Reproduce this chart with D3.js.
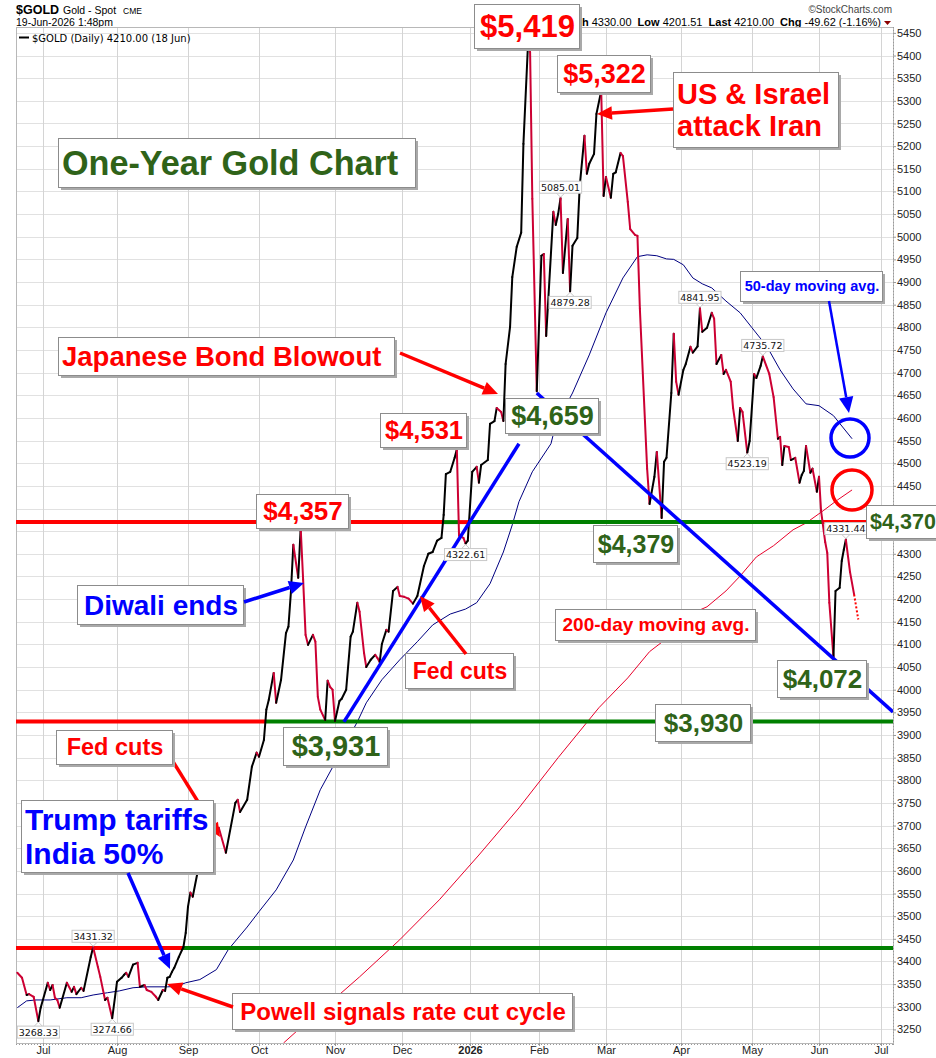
<!DOCTYPE html>
<html>
<head>
<meta charset="utf-8">
<script src="https://cdn.jsdelivr.net/npm/d3@7"></script>
<style>
  body { margin: 0; background: #fff; }
  svg { display: block; font-family: "Liberation Sans", Arial, sans-serif; }
</style>
</head>
<body>
<svg id="chart" width="936" height="1058"></svg>
<script>
// ---- data ----
const priceDates = [
  "2025-06-20","2025-06-22","2025-06-24","2025-06-25","2025-06-27","2025-06-29","2025-06-30",
  "2025-07-03","2025-07-04","2025-07-05","2025-07-06","2025-07-07","2025-07-08","2025-07-11","2025-07-13",
  "2025-07-14","2025-07-15","2025-07-17","2025-07-18","2025-07-21","2025-07-22","2025-07-24","2025-07-25",
  "2025-07-27","2025-07-28","2025-07-30","2025-08-01","2025-08-03","2025-08-04","2025-08-05","2025-08-06",
  "2025-08-08","2025-08-10","2025-08-11","2025-08-13","2025-08-14","2025-08-16","2025-08-18","2025-08-19",
  "2025-08-21","2025-08-22","2025-08-23","2025-08-24","2025-08-25","2025-08-26","2025-08-28","2025-08-30",
  "2025-08-31","2025-09-01","2025-09-02","2025-09-03","2025-09-05","2025-09-07","2025-09-09","2025-09-14",
  "2025-09-17","2025-09-21","2025-09-22","2025-09-23","2025-09-26","2025-09-28","2025-09-30","2025-10-01",
  "2025-10-03","2025-10-04","2025-10-05","2025-10-07","2025-10-08","2025-10-10","2025-10-12","2025-10-13",
  "2025-10-14","2025-10-15","2025-10-17","2025-10-18","2025-10-19","2025-10-20","2025-10-21","2025-10-23",
  "2025-10-24","2025-10-25","2025-10-26","2025-10-28","2025-10-29","2025-10-30","2025-10-31","2025-11-01",
  "2025-11-03","2025-11-04","2025-11-06","2025-11-08","2025-11-09","2025-11-11","2025-11-12","2025-11-14",
  "2025-11-15","2025-11-17","2025-11-19","2025-11-20","2025-11-21","2025-11-22","2025-11-24","2025-11-25",
  "2025-11-27","2025-11-29","2025-11-30","2025-12-02","2025-12-04","2025-12-06","2025-12-08","2025-12-11",
  "2025-12-13","2025-12-15","2025-12-17","2025-12-19","2025-12-20","2025-12-21","2025-12-23","2025-12-25",
  "2025-12-26","2025-12-27","2025-12-29","2025-12-30","2025-12-31","2026-01-02","2026-01-04","2026-01-05",
  "2026-01-06","2026-01-09","2026-01-10","2026-01-12","2026-01-13","2026-01-15","2026-01-16","2026-01-17",
  "2026-01-19","2026-01-20","2026-01-22","2026-01-24","2026-01-25","2026-01-27","2026-01-28","2026-01-29",
  "2026-01-31","2026-02-02","2026-02-03","2026-02-04","2026-02-07","2026-02-08","2026-02-09","2026-02-10",
  "2026-02-11","2026-02-13","2026-02-14","2026-02-15","2026-02-17","2026-02-18","2026-02-20","2026-02-21",
  "2026-02-22","2026-02-24","2026-02-25","2026-02-27","2026-02-28","2026-03-01","2026-03-03","2026-03-04",
  "2026-03-05","2026-03-07","2026-03-08","2026-03-10","2026-03-11","2026-03-13","2026-03-14","2026-03-15",
  "2026-03-18","2026-03-19","2026-03-21","2026-03-22","2026-03-24","2026-03-25","2026-03-26","2026-03-28",
  "2026-03-29","2026-03-30","2026-03-31","2026-04-02","2026-04-03","2026-04-05","2026-04-06","2026-04-08",
  "2026-04-09","2026-04-10","2026-04-12","2026-04-14","2026-04-15","2026-04-16","2026-04-18","2026-04-19",
  "2026-04-20","2026-04-22","2026-04-23","2026-04-25","2026-04-26","2026-04-27","2026-04-29","2026-04-30",
  "2026-05-02","2026-05-03","2026-05-05","2026-05-06","2026-05-09","2026-05-11","2026-05-13","2026-05-14",
  "2026-05-15","2026-05-16","2026-05-18","2026-05-19","2026-05-21","2026-05-23","2026-05-24","2026-05-25",
  "2026-05-26","2026-05-28","2026-05-29","2026-05-31","2026-06-01","2026-06-02","2026-06-04","2026-06-05",
  "2026-06-06","2026-06-08","2026-06-09","2026-06-11","2026-06-12","2026-06-13","2026-06-14","2026-06-16",
  "2026-06-18"
];
const priceValues = [
  3375,3364,3326,3328,3322,3268.33,3298,
  3353,3337,3348,3320,3315,3298,3353,3333,
  3344,3328,3342,3335,3410,3431.32,3388,3366,
  3315,3320,3274.66,3355,3364,3370,3375,3366,
  3393,3397,3344,3348,3337,3333,3322,3315,
  3337,3335,3364,3366,3377,3386,3410,3432,
  3463,3521,3552,3543,3596,3640,3669,3695,
  3640,3750,3757,3730,3757,3830,3861,3852,
  3889,3956,3978,4037,3971,4022,4125,4139,
  4214,4320,4247,4357,4243,4121,4099,4121,
  4106,3984,3956,3933,4020,4006,4000,3931,
  3975,3980,4000,4117,4128,4192,4172,4081,
  4050,4066,4077,4070,4061,4101,4132,4128,
  4218,4227,4207,4205,4201,4190,4207,4273,
  4300,4304,4329,4335,4386,4476,4481,4512,
  4531,4340,4335,4322.61,4329,4481,4492,4457,
  4496,4507,4587,4593,4622,4613,4593,4719,
  4801,4911,4978,5009,5205,5419,5408,5084,
  4659,4958,4962,4781,5055,5026,5050,5085.01,
  4920,5039,4879.28,4980,4997,5110,5223,5139,
  5161,5183,5271,5322,5090,5132,5086,5139,
  5142,5185,5178,5077,5017,5004,5002,4841,
  4488,4410,4470,4525,4379,4503,4512,4655,
  4786,4680,4651,4706,4719,4757,4744,4758,
  4841.95,4790,4799,4832,4819,4719,4739,4697,
  4706,4680,4622,4549,4622,4613,4523.19,4549,
  4697,4688,4715,4735.72,4697,4646,4554,4558,
  4496,4538,4536,4507,4512,4457,4474,4483,
  4538,4479,4488,4437,4470,4395,4326,4302,
  4192,4072,4218,4225,4284,4309,4331.44,4260,
  4210
];
// intraday move drawn dotted after the last close
const liveDates = ["2026-06-18", "2026-06-20"];
const liveValues = [4210, 4155];

const ma50Dates = [
  "2025-06-20","2025-06-24","2025-06-28","2025-07-04","2025-07-11","2025-07-17","2025-07-22","2025-07-28",
  "2025-08-02","2025-08-08","2025-08-14","2025-08-23","2025-08-27","2025-08-31","2025-09-06","2025-09-13",
  "2025-09-18","2025-09-26","2025-10-01","2025-10-08","2025-10-15","2025-10-20","2025-10-26","2025-11-11",
  "2025-11-15","2025-11-22","2025-11-30","2025-12-08","2025-12-15","2025-12-23","2025-12-30","2026-01-04",
  "2026-01-10","2026-01-16","2026-01-20","2026-01-23","2026-01-29","2026-02-06","2026-02-08","2026-02-15",
  "2026-02-22","2026-03-01","2026-03-08","2026-03-14","2026-03-18","2026-03-22","2026-03-26","2026-03-29",
  "2026-04-02","2026-04-06","2026-04-10","2026-04-14","2026-04-20","2026-04-26","2026-05-01","2026-05-08",
  "2026-05-14","2026-05-20","2026-05-26","2026-06-01","2026-06-08","2026-06-17"
];
const ma50Values = [
  3298,3313,3315,3315,3320,3320,3326,3331,
  3335,3342,3344,3344,3345,3353,3360,3382,
  3426,3476,3510,3558,3624,3697,3779,3929,
  3971,4022,4066,4106,4143,4167,4178,4192,
  4234,4304,4364,4415,4481,4543,4585,4655,
  4739,4832,4909,4956,4960,4958,4951,4950,
  4938,4909,4896,4887,4858,4832,4799,4757,
  4706,4664,4631,4627,4605,4554
];

const ma200Dates = [
  "2025-10-11","2025-10-18","2025-10-30","2025-11-12","2025-11-30","2025-12-18","2026-01-05","2026-01-23",
  "2026-02-09","2026-02-26","2026-03-10","2026-03-19","2026-03-29","2026-04-05","2026-04-12","2026-04-20",
  "2026-04-26","2026-05-03","2026-05-11","2026-05-20","2026-05-26","2026-06-03","2026-06-10","2026-06-17"
];
const ma200Values = [
  3220,3254,3309,3366,3448,3536,3635,3739,
  3850,3960,4026,4084,4125,4167,4183,4218,
  4251,4293,4318,4353,4368,4395,4419,4441
];

// support / resistance levels drawn across the chart
const levelValues = [4370, 3930, 3430];

// trend lines: [startDate, startValue, endDate, endValue]
const trendLines = [
  ["2025-11-05", 3929, "2026-01-23", 4543],
  ["2026-01-31", 4655, "2026-07-07", 3951]
];

// small price labels at swing highs / lows
const pointLabelDates = ["2025-07-22","2025-06-29","2025-07-30","2026-02-10","2026-02-14","2025-12-30",
                         "2026-04-09","2026-05-06","2026-04-29","2026-06-14"];

const yTicks = d3.range(3250, 5451, 50);
const monthTicks = ["2025-07-01","2025-08-01","2025-09-01","2025-10-01","2025-11-01","2025-12-01",
                    "2026-01-01","2026-02-01","2026-03-01","2026-04-01","2026-05-01","2026-06-01","2026-07-01"];

// ---- layout ----
const plot = { left: 16, top: 27, right: 893, bottom: 1043 };
const parse = d3.timeParse("%Y-%m-%d");

// the axis is drawn in trading days, so month widths differ slightly
const x = d3.scaleTime()
  .domain(["2025-06-19","2025-07-01","2025-08-01","2025-09-01","2025-10-01","2025-11-01","2025-12-01",
           "2026-01-01","2026-02-01","2026-03-01","2026-04-01","2026-05-01","2026-06-01","2026-07-01","2026-07-07"].map(parse))
  .range([15, 43, 117, 188, 259, 335, 402, 470, 539, 606, 681, 752, 819, 881, 893]);
const y = d3.scaleLinear().domain([3220, 5463]).range([plot.bottom, plot.top]);

const price = priceDates.map((d, i) => ({ date: parse(d), value: priceValues[i] }));
const ma50 = ma50Dates.map((d, i) => ({ date: parse(d), value: ma50Values[i] }));
const ma200 = ma200Dates.map((d, i) => ({ date: parse(d), value: ma200Values[i] }));
const live = liveDates.map((d, i) => ({ date: parse(d), value: liveValues[i] }));

const RED = "#ff0000", BLUE = "#0000ff", GREEN = "#2f6319", UPCOL = "#000000", DOWNCOL = "#cc0033";

const svg = d3.select("#chart");

svg.append("defs").append("clipPath").attr("id", "plotclip")
  .append("rect").attr("x", plot.left).attr("y", plot.top)
  .attr("width", plot.right - plot.left).attr("height", plot.bottom - plot.top);

// ---- header ----
const hdr = svg.append("g");
hdr.append("text").attr("x", 16).attr("y", 14).attr("font-size", 12.5).attr("font-weight", "bold").text("$GOLD");
hdr.append("text").attr("x", 63).attr("y", 14).attr("font-size", 10.5).text("Gold - Spot");
hdr.append("text").attr("x", 123).attr("y", 14).attr("font-size", 8.5).text("CME");
hdr.append("text").attr("x", 16).attr("y", 26).attr("font-size", 10.5).text("19-Jun-2026 1:48pm");
hdr.append("text").attr("x", 892).attr("y", 13).attr("font-size", 10).attr("text-anchor", "end")
  .attr("fill", "#444").text("\u00A9StockCharts.com");
const quote = hdr.append("text").attr("x", 881).attr("y", 25.5).attr("font-size", 11).attr("text-anchor", "end");
[["High ", true], ["4330.00  ", false], ["Low ", true], ["4201.51  ", false], ["Last ", true],
 ["4210.00  ", false], ["Chg ", true], ["-49.62 (-1.16%)", false]].forEach(([t, b]) => {
  quote.append("tspan").attr("font-weight", b ? "bold" : "normal").attr("xml:space", "preserve").text(t);
});
hdr.append("path").attr("d", "M884,21 L891,21 L887.5,25 Z").attr("fill", "#8b0000");

// ---- grid ----
const grid = svg.append("g");
grid.selectAll("line.h").data(yTicks).join("line").attr("class", "h")
  .attr("x1", plot.left).attr("x2", plot.right)
  .attr("y1", d => Math.round(y(d)) + 0.5).attr("y2", d => Math.round(y(d)) + 0.5)
  .attr("stroke", "#e1e1e1");
grid.selectAll("line.v").data(monthTicks.map(parse)).join("line").attr("class", "v")
  .attr("x1", d => Math.round(x(d)) + 0.5).attr("x2", d => Math.round(x(d)) + 0.5)
  .attr("y1", plot.top).attr("y2", plot.bottom)
  .attr("stroke", "#d4d4d4");
grid.append("rect").attr("x", plot.left + 0.5).attr("y", plot.top + 0.5)
  .attr("width", plot.right - plot.left).attr("height", plot.bottom - plot.top)
  .attr("fill", "none").attr("stroke", "#b8b8b8");
grid.append("line").attr("x1", plot.right + 0.5).attr("x2", plot.right + 0.5)
  .attr("y1", plot.top).attr("y2", plot.bottom + 4).attr("stroke", "#999").attr("stroke-dasharray", "1,2");
grid.append("line").attr("x1", plot.left).attr("x2", plot.right)
  .attr("y1", plot.bottom + 1.5).attr("y2", plot.bottom + 1.5).attr("stroke", "#999").attr("stroke-dasharray", "1,2");

// right axis
const yAxis = svg.append("g").attr("transform", `translate(${plot.right},0)`)
  .call(d3.axisRight(y).tickValues(yTicks).tickSize(3).tickFormat(d3.format("d")));
yAxis.select(".domain").remove();
yAxis.selectAll("line").attr("stroke", "#999");
yAxis.selectAll("text").attr("font-family", "Liberation Sans, Arial, sans-serif")
  .attr("font-size", 11).attr("fill", "#222").attr("x", 4);

// bottom axis
const xAxis = svg.append("g").attr("transform", `translate(0,${plot.bottom})`)
  .call(d3.axisBottom(x).tickValues(monthTicks.map(parse)).tickSize(3)
    .tickFormat(d => d.getMonth() === 0 ? d3.timeFormat("%Y")(d) : d3.timeFormat("%b")(d)));
xAxis.select(".domain").remove();
xAxis.selectAll("line").attr("stroke", "#999");
xAxis.selectAll("text").attr("font-family", "Liberation Sans, Arial, sans-serif")
  .attr("font-size", 11).attr("fill", "#222").attr("y", 3).attr("dy", "0.72em")
  .attr("font-weight", d => d.getMonth() === 0 ? "bold" : "normal");

// legend inside plot
svg.append("line").attr("x1", 19).attr("x2", 29).attr("y1", 37.5).attr("y2", 37.5).attr("stroke", "#000").attr("stroke-width", 2);
svg.append("text").attr("x", 32).attr("y", 41.5).attr("font-family", "DejaVu Sans, sans-serif")
  .attr("font-size", 10).text("$GOLD (Daily) 4210.00 (18 Jun)");

const body = svg.append("g").attr("clip-path", "url(#plotclip)");

// moving averages
const line = d3.line().x(d => x(d.date)).y(d => y(d.value));
body.append("path").datum(ma200).attr("d", line).attr("fill", "none").attr("stroke", "#e8002a").attr("stroke-width", 1);
body.append("path").datum(ma50).attr("d", line).attr("fill", "none").attr("stroke", "#000080").attr("stroke-width", 1);

// level lines: red while price is below, green once price is above
levelValues.forEach(level => {
  const segs = [];
  let startX = plot.left;
  let above = price[0].value > level;
  for (let i = 1; i < price.length; i++) {
    const a = price[i - 1], b = price[i];
    const nowAbove = b.value > level;
    if (nowAbove !== above) {
      const t = (level - a.value) / (b.value - a.value);
      const cx = x(a.date) + t * (x(b.date) - x(a.date));
      segs.push([startX, cx, above]);
      startX = cx;
      above = nowAbove;
    }
  }
  segs.push([startX, plot.right, above]);
  body.selectAll(null).data(segs).join("line")
    .attr("x1", d => d[0]).attr("x2", d => d[1])
    .attr("y1", y(level)).attr("y2", y(level))
    .attr("stroke", d => d[2] ? "#008000" : RED).attr("stroke-width", 4);
});

// close line coloured by direction
const segData = d3.pairs(price);
body.selectAll("line.px").data(segData).join("line").attr("class", "px")
  .attr("x1", d => x(d[0].date)).attr("y1", d => y(d[0].value))
  .attr("x2", d => x(d[1].date)).attr("y2", d => y(d[1].value))
  .attr("stroke", d => d[1].value >= d[0].value ? UPCOL : DOWNCOL)
  .attr("stroke-width", 2).attr("stroke-linecap", "round");
body.append("path").datum(live).attr("d", line).attr("fill", "none")
  .attr("stroke", RED).attr("stroke-width", 2).attr("stroke-dasharray", "2,2");

// trend lines
body.selectAll("line.trend").data(trendLines).join("line").attr("class", "trend")
  .attr("x1", d => x(parse(d[0]))).attr("y1", d => y(d[1]))
  .attr("x2", d => x(parse(d[2]))).attr("y2", d => y(d[3]))
  .attr("stroke", BLUE).attr("stroke-width", 3.5);

// small swing labels
const lbl = svg.append("g").attr("font-family", "DejaVu Sans, sans-serif").attr("font-size", 9.5);
pointLabelDates.forEach(ds => {
  const i = priceDates.indexOf(ds);
  const p = price[i];
  const prev = price[Math.max(0, i - 1)].value, next = price[Math.min(price.length - 1, i + 1)].value;
  const isHigh = p.value >= prev && p.value >= next;
  const txt = p.value.toFixed(2);
  const w = txt.length * 5.6 + 3, h = 12;
  const px = x(p.date), py = y(p.value);
  const by = isHigh ? py - 5 - h : py + 5;
  lbl.append("path")
    .attr("d", isHigh ? `M${px - 4},${by + h} L${px},${py - 1} L${px + 4},${by + h}`
                      : `M${px - 4},${by} L${px},${py + 1} L${px + 4},${by}`)
    .attr("fill", "#fff").attr("stroke", "#c8c8c8");
  lbl.append("rect").attr("x", px - w / 2).attr("y", by).attr("width", w).attr("height", h)
    .attr("fill", "#fff").attr("stroke", "#c8c8c8");
  lbl.append("text").attr("x", px).attr("y", by + 9.5).attr("text-anchor", "middle").attr("fill", "#111").text(txt);
});

// ---- annotations ----
const ann = svg.append("g");

function arrow(x1, y1, x2, y2, color, width = 3.5, head = 15) {
  const ang = Math.atan2(y2 - y1, x2 - x1);
  const bx = x2 - Math.cos(ang) * head, by = y2 - Math.sin(ang) * head;
  ann.append("line").attr("x1", x1).attr("y1", y1).attr("x2", bx).attr("y2", by)
    .attr("stroke", color).attr("stroke-width", width);
  const hw = head * 0.45;
  const p1 = [bx + Math.sin(ang) * hw, by - Math.cos(ang) * hw];
  const p2 = [bx - Math.sin(ang) * hw, by + Math.cos(ang) * hw];
  ann.append("path").attr("d", `M${x2},${y2} L${p1[0]},${p1[1]} L${p2[0]},${p2[1]} Z`).attr("fill", color);
}

function box(bx, by, bw, bh, lines, color, size, align = "middle") {
  ann.append("rect").attr("x", bx + 3).attr("y", by + 3).attr("width", bw).attr("height", bh).attr("fill", "#a9a9a9");
  ann.append("rect").attr("x", bx + 0.5).attr("y", by + 0.5).attr("width", bw).attr("height", bh)
    .attr("fill", "#fff").attr("stroke", "#8c8c8c");
  const lh = size * 1.13;
  const top = by + bh / 2 - (lines.length * lh) / 2;
  lines.forEach((t, k) => {
    ann.append("text")
      .attr("x", align === "middle" ? bx + bw / 2 + 1 : bx + 4)
      .attr("y", top + lh * k + lh / 2 + size * 0.36)
      .attr("text-anchor", align).attr("font-weight", "bold").attr("font-size", size)
      .attr("fill", color).text(t);
  });
}

// arrow that sits behind the tariffs box
arrow(172, 760, 220, 837, RED, 3.5, 14);

box(474, 4, 105, 44, ["$5,419"], RED, 31);
box(557, 55, 93, 37, ["$5,322"], RED, 27);
box(673, 72, 165, 75, ["US & Israel", "attack Iran"], RED, 29, "start");
box(58, 138, 357, 49, ["One-Year Gold Chart"], GREEN, 34.2, "start");
box(740, 271, 142, 30, ["50-day moving avg."], BLUE, 14.5);
box(58, 337, 336, 38, ["Japanese Bond Blowout"], RED, 27.5, "start");
box(380, 413, 86, 34, ["$4,531"], RED, 25.5);
box(505, 398, 93, 35, ["$4,659"], GREEN, 27);
box(256, 494, 92, 34, ["$4,357"], RED, 26);
box(593, 525, 84, 37, ["$4,379"], GREEN, 25);
box(866, 505, 72, 33, ["$4,370"], GREEN, 21.5);
box(77, 585, 166, 39, ["Diwali ends"], BLUE, 28);
box(555, 609, 200, 31, ["200-day moving avg."], RED, 19);
box(405, 653, 108, 35, ["Fed cuts"], RED, 23);
box(777, 660, 89, 37, ["$4,072"], GREEN, 26);
box(655, 704, 95, 37, ["$3,930"], GREEN, 26);
box(283, 727, 104, 38, ["$3,931"], GREEN, 29);
box(56, 730, 116, 34, ["Fed cuts"], RED, 23.5);
box(21, 800, 192, 72, ["Trump tariffs", "India 50%"], BLUE, 30, "start");
box(232, 993, 340, 36, ["Powell signals rate cut cycle"], RED, 24);

arrow(673, 109, 597, 114, RED);
arrow(829, 301, 849, 413, BLUE, 2.5, 16);
arrow(400, 353, 498, 394, RED);
arrow(244, 602, 304, 583, BLUE);
arrow(466, 654, 420, 596, RED);
arrow(128, 873, 170, 969, BLUE);
arrow(233, 1007, 167, 984, RED);

ann.append("circle").attr("cx", 850).attr("cy", 438).attr("r", 19).attr("fill", "none").attr("stroke", BLUE).attr("stroke-width", 3.5);
ann.append("circle").attr("cx", 852).attr("cy", 490).attr("r", 20).attr("fill", "none").attr("stroke", RED).attr("stroke-width", 3.5);
</script>
</body>
</html>
